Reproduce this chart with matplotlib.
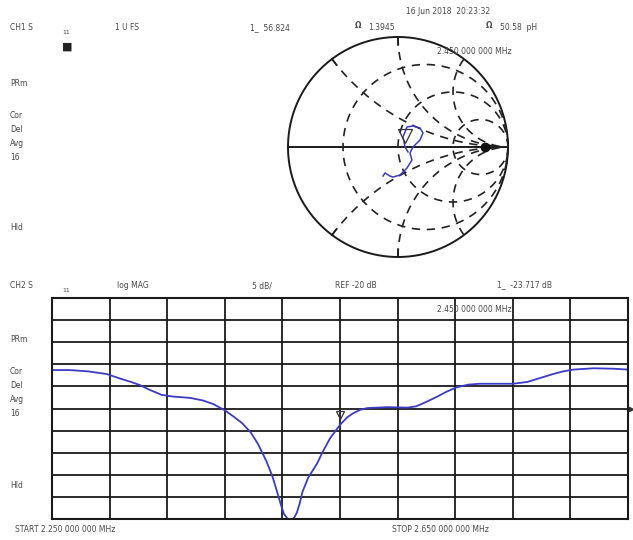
import numpy as np
import matplotlib.pyplot as plt
from matplotlib import transforms

# Lower trace: S11 log magnitude, 2.25 - 2.65 GHz
freq_ghz = [2.250, 2.262, 2.275, 2.288, 2.298, 2.305, 2.311, 2.318, 2.326, 2.334,
            2.346, 2.355, 2.362, 2.370, 2.376, 2.382, 2.388, 2.393, 2.399, 2.403,
            2.406, 2.409, 2.411, 2.4135, 2.4155, 2.418, 2.420, 2.422, 2.424, 2.428,
            2.434, 2.438, 2.443, 2.450, 2.455, 2.459, 2.464, 2.469, 2.483, 2.497,
            2.503, 2.510, 2.517, 2.524, 2.531, 2.539, 2.547, 2.570, 2.580, 2.590,
            2.598, 2.605, 2.612, 2.626, 2.640, 2.650]
s11_db = [-11.3, -11.3, -11.6, -12.2, -13.3, -14.0, -14.7, -15.8, -16.9, -17.3,
          -17.6, -18.2, -19.0, -20.4, -21.8, -23.3, -25.4, -28.0, -32.0, -35.3,
          -38.5, -41.8, -43.8, -44.9, -45.2, -44.8, -43.6, -41.5, -38.8, -35.6,
          -32.5, -29.8, -26.8, -23.7, -22.0, -21.1, -20.3, -19.9, -19.7, -19.8,
          -19.5, -18.5, -17.4, -16.2, -15.2, -14.6, -14.4, -14.4, -14.0, -13.0,
          -12.2, -11.6, -11.2, -10.9, -11.0, -11.2]

# Upper trace: S11 on the Smith chart (reflection coefficient)
gamma_re = [-0.136, -0.118, -0.073, -0.045, 0.018, 0.082, 0.127, 0.109, 0.136, 0.200,
            0.227, 0.200, 0.136, 0.082, 0.045, 0.064, 0.091]
gamma_im = [-0.264, -0.236, -0.264, -0.273, -0.255, -0.191, -0.118, -0.055, 0.000, 0.064,
            0.127, 0.173, 0.191, 0.182, 0.091, 0.000, -0.045]

marker_freq = 2.45
marker_db = -23.717
marker_gamma = (0.064, 0.0)
ref_dot = (0.79, 0.0)

start_ghz, stop_ghz = 2.25, 2.65
ref_db, db_per_div = -20, 5

W, H = 633, 540
fig = plt.figure(figsize=(W / 100, H / 100), dpi=100)
fig.patch.set_facecolor('white')

trace_col = '#3b3bc8'
grid_col = '#1a1a1a'
txt_col = '#4a4a4a'


def label(x, y, s, ha='left', size=5.5, color=txt_col, **kw):
    fig.text(x / W, 1 - y / H, s, ha=ha, va='center', fontsize=size, color=color, **kw)


# ---- lower log MAG chart ----
ax = fig.add_axes([52 / W, (H - 519) / H, 576 / W, 221 / H])
ax.set_xlim(start_ghz, stop_ghz)
ax.set_ylim(ref_db - 5 * db_per_div, ref_db + 5 * db_per_div)
for f in np.linspace(start_ghz, stop_ghz, 11):
    ax.axvline(f, color=grid_col, lw=1.3)
for d in np.linspace(ref_db - 25, ref_db + 25, 11):
    ax.axhline(d, color=grid_col, lw=1.3)
for s in ax.spines.values():
    s.set_color(grid_col)
    s.set_linewidth(1.5)
ax.set_xticks([])
ax.set_yticks([])
ax.plot(freq_ghz, s11_db, color=trace_col, lw=1.3)
off = transforms.offset_copy(ax.transData, fig=fig, x=0, y=4, units='points')
ax.plot([marker_freq], [marker_db + 0.9], marker='v', ms=6, mfc='none', mec='#333',
        mew=0.9, transform=off)
ax.plot([stop_ghz + 0.002], [ref_db], marker='>', ms=3, color='#333', clip_on=False)

# ---- upper Smith chart ----
sm = fig.add_axes([285.8 / W, (H - 259.2) / H, 224.4 / W, 224.4 / H])
sm.set_xlim(-1.02, 1.02)
sm.set_ylim(-1.02, 1.02)
sm.axis('off')
t = np.linspace(0, 2 * np.pi, 400)
sm.plot(np.cos(t), np.sin(t), color=grid_col, lw=1.4)
sm.plot([-1, 1], [0, 0], color=grid_col, lw=1.4)
dash = dict(color='#222', lw=1.2, dashes=(5, 4))
for r in [1 / 3, 1, 3]:
    c, rad = r / (1 + r), 1 / (1 + r)
    sm.plot(c + rad * np.cos(t), rad * np.sin(t), **dash)
rr = np.concatenate([[0], np.geomspace(0.01, 200, 400)])
for xv in [0.5, 1, 2, -0.5, -1, -2]:
    z = rr + 1j * xv
    g = (z - 1) / (z + 1)
    sm.plot(g.real, g.imag, **dash)
for xv in [0.5, 1, -0.5, -1]:
    g = (1j * xv - 1) / (1j * xv + 1)
    sm.plot([g.real, 0.93 * g.real], [g.imag, 0.93 * g.imag], color=grid_col, lw=1.1)
sm.plot(gamma_re, gamma_im, color=trace_col, lw=1.1)
off2 = transforms.offset_copy(sm.transData, fig=fig, x=0, y=8, units='points')
sm.plot([marker_gamma[0]], [marker_gamma[1]], marker='v', ms=10, mfc='none', mec='#333',
        mew=0.9, transform=off2)
sm.plot([ref_dot[0]], [ref_dot[1]], 'o', color='#111', ms=6)

# ---- annotations ----
label(10, 28, 'CH1 S')
label(62, 32, '11', size=4.5)
label(62, 47, '■', size=8, color='#222')
label(115, 28, '1 U FS')
label(250, 28, '1_  56.824')
label(448, 12, '16 Jun 2018  20:23:32', ha='center')
label(355, 26, 'Ω', weight='bold')
label(368, 27, '1.3945')
label(486, 26, 'Ω', weight='bold')
label(500, 27, '50.58  pH')
label(437, 51, '2.450 000 000 MHz')
for y, s in [(84, 'PRm'), (115, 'Cor'), (129, 'Del'), (143, 'Avg'), (157, '16'), (227, 'Hld')]:
    label(10, y, s)

label(10, 286, 'CH2 S')
label(62, 290, '11', size=4.5)
label(117, 286, 'log MAG')
label(252, 286, '5 dB/')
label(335, 285, 'REF -20 dB')
label(497, 285, '1_  -23.717 dB')
label(437, 309, '2.450 000 000 MHz')
for y, s in [(340, 'PRm'), (372, 'Cor'), (386, 'Del'), (400, 'Avg'), (413, '16'), (485, 'Hld')]:
    label(10, y, s)
label(15, 530, 'START 2.250 000 000 MHz')
label(392, 530, 'STOP 2.650 000 000 MHz')

fig.savefig('out.png', dpi=100, facecolor='white')
